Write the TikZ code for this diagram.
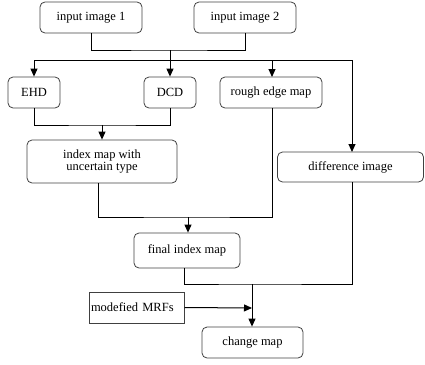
\documentclass[tikz,border=0pt]{standalone}
\usepackage{fontspec}
\setmainfont{Liberation Serif}
\usetikzlibrary{arrows.meta}
\tikzset{
  block/.style={draw=black!75, line width=0.8pt, rounded corners=5pt, align=center, inner sep=0pt, font=\fontsize{12.5}{13.5}\selectfont},
  plainblock/.style={block, rounded corners=0pt, line width=1pt, align=left, inner xsep=2pt, text width=91pt},
  flow/.style={line width=1pt},
  arr/.style={flow, -{Triangle[length=8pt,width=7pt]}}
}
\begin{document}
\begin{tikzpicture}[x=1pt,y=-1pt]
        \useasboundingbox (0,0) rectangle (425,364);
        % boxes
        \node[block, minimum width=102pt, minimum height=31pt] (in1) at (91,17.5) {input image 1};
        \node[block, minimum width=102pt, minimum height=31pt] (in2) at (245,17.5) {input image 2};
        \node[block, minimum width=52pt, minimum height=31pt] (ehd) at (34,92.5) {EHD};
        \node[block, minimum width=52pt, minimum height=31pt] (dcd) at (170,92.5) {DCD};
        \node[block, minimum width=102pt, minimum height=31pt] (rough) at (271,92.5) {rough edge map};
        \node[block, minimum width=150pt, minimum height=43pt] (idx) at (102,161.5) {index map with\\[-1pt]uncertain type};
        \node[block, minimum width=146pt, minimum height=30pt] (diff) at (350.5,167) {difference image};
        \node[block, minimum width=106pt, minimum height=35pt] (final) at (187,250.5) {final index map};
        \node[plainblock, minimum height=31pt] (mrf) at (136.5,307.5) {modefied MRFs};
        \node[block, minimum width=101pt, minimum height=31pt] (change) at (252.5,342.5) {change map};
        % junctions
        \coordinate (j1) at (170,50);
        \coordinate (b1) at (170,60);
        \coordinate (j2) at (102,125);
        \coordinate (j3) at (188,217);
        \coordinate (j4) at (252,284);
        \coordinate (j5) at (252,308);
        % connectors
        \draw[flow] (in1.south) |- (j1) -| (in2.south);
        \draw[flow] (j1) -- (b1);
        \draw[flow] (34,60) -- (352,60);
        \draw[arr] (34,60) -- (ehd.north);
        \draw[arr] (b1) -- (dcd.north);
        \draw[arr] (272,60) -- (272,77);
        \draw[arr] (352,60) -- (352,152);
        \draw[flow] (ehd.south) |- (j2) -| (dcd.south);
        \draw[arr] (j2) -- (idx.north);
        \draw[flow] (idx.south -| 98,0) |- (j3) -| (272,108);
        \draw[arr] (j3) -- (final.north -| j3);
        \draw[flow] (final.south -| 184,0) |- (j4) -| (352,182);
        \draw[arr] (j4) -- (change.north -| j4);
        \draw[arr] (mrf.east) -- (j5);
\end{tikzpicture}
\end{document}
